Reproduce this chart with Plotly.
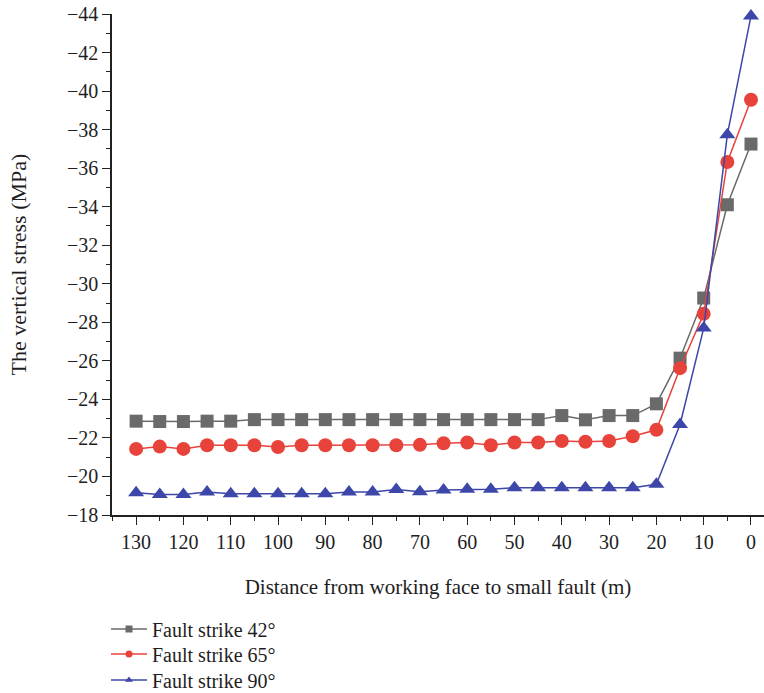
import plotly.graph_objects as go

# Distance from working face to the small fault (m)
distance = [130, 125, 120, 115, 110, 105, 100, 95, 90, 85, 80, 75, 70,
            65, 60, 55, 50, 45, 40, 35, 30, 25, 20, 15, 10, 5, 0]

# Vertical stress (MPa) for each fault strike angle
stress_42 = [-22.87, -22.85, -22.85, -22.87, -22.87, -22.95, -22.95, -22.95, -22.95,
             -22.95, -22.95, -22.95, -22.95, -22.95, -22.95, -22.95, -22.95, -22.95,
             -23.16, -22.94, -23.16, -23.16, -23.77, -26.14, -29.26, -34.1, -37.25]
stress_65 = [-21.43, -21.55, -21.43, -21.62, -21.62, -21.62, -21.53, -21.62, -21.62,
             -21.62, -21.62, -21.62, -21.64, -21.72, -21.76, -21.62, -21.76, -21.76,
             -21.84, -21.8, -21.84, -22.09, -22.42, -25.62, -28.44, -36.32, -39.55]
stress_90 = [-19.16, -19.07, -19.07, -19.19, -19.1, -19.1, -19.1, -19.1, -19.1,
             -19.19, -19.19, -19.32, -19.21, -19.3, -19.33, -19.33, -19.42, -19.42,
             -19.42, -19.42, -19.42, -19.42, -19.59, -22.7, -27.7, -37.74, -43.9]

series_names = ["Fault strike 42°", "Fault strike 65°", "Fault strike 90°"]
series_values = [stress_42, stress_65, stress_90]
colors = ["#6a6a6a", "#e8433b", "#3d47a9"]
symbols = ["square", "circle", "triangle-up"]
sizes = [13, 14, 14]

x_ticks = list(range(130, -1, -10))
y_ticks = list(range(-44, -17, 2))

serif = "'Liberation Serif', 'DejaVu Serif', serif"
text_color = "#1e1e1e"

fig = go.Figure()
for name, vals, col, sym, sz in zip(series_names, series_values, colors, symbols, sizes):
    fig.add_trace(go.Scatter(
        x=distance, y=vals, mode="lines+markers", name=name, showlegend=False,
        line=dict(color=col, width=1.5),
        marker=dict(symbol=sym, size=sz, color=col),
        cliponaxis=False,
    ))

# One legend per series so the rows sit close together below the axes
legend_ids = ["legend", "legend2", "legend3"]
legend_y = [-0.2275, -0.2774, -0.3293]
for name, col, sym, lid in zip(series_names, colors, symbols, legend_ids):
    fig.add_trace(go.Scatter(
        x=[None], y=[None], mode="lines+markers", name=name, legend=lid,
        line=dict(color=col, width=1.5),
        marker=dict(symbol=sym, size=7, color=col),
    ))

axis_common = dict(
    showline=True, linecolor="#222222", linewidth=1.5,
    ticks="outside", ticklen=8, tickwidth=1.2, tickcolor="#222222",
    showgrid=False, zeroline=False,
    tickfont=dict(family=serif, size=20, color=text_color),
)

fig.update_xaxes(
    range=[135.1, -2.75], tickvals=x_ticks,
    minor=dict(ticks="outside", ticklen=4, tickwidth=1.2, tickcolor="#222222", dtick=5),
    title=dict(text="Distance from working face to small fault (m)",
               font=dict(family=serif, size=21, color=text_color), standoff=28),
    **axis_common,
)
fig.update_yaxes(
    range=[-18, -44], tickvals=y_ticks,
    ticktext=[f"\u2212{abs(v)}" for v in y_ticks],
    minor=dict(ticks="outside", ticklen=4, tickwidth=1.2, tickcolor="#222222", dtick=1),
    title=dict(text="The vertical stress (MPa)",
               font=dict(family=serif, size=22, color=text_color), standoff=34),
    **axis_common,
)

legend_style = dict(
    x=-0.0092, xanchor="left", yanchor="middle",
    font=dict(family=serif, size=20, color=text_color),
    bgcolor="rgba(0,0,0,0)", itemwidth=36,
)
fig.update_layout(
    width=764, height=693,
    margin=dict(l=112, r=0, t=14, b=178, autoexpand=False),
    paper_bgcolor="white", plot_bgcolor="white",
    font=dict(family=serif),
    legend=dict(y=legend_y[0], **legend_style),
    legend2=dict(y=legend_y[1], **legend_style),
    legend3=dict(y=legend_y[2], **legend_style),
)

fig.write_html("out.html")
